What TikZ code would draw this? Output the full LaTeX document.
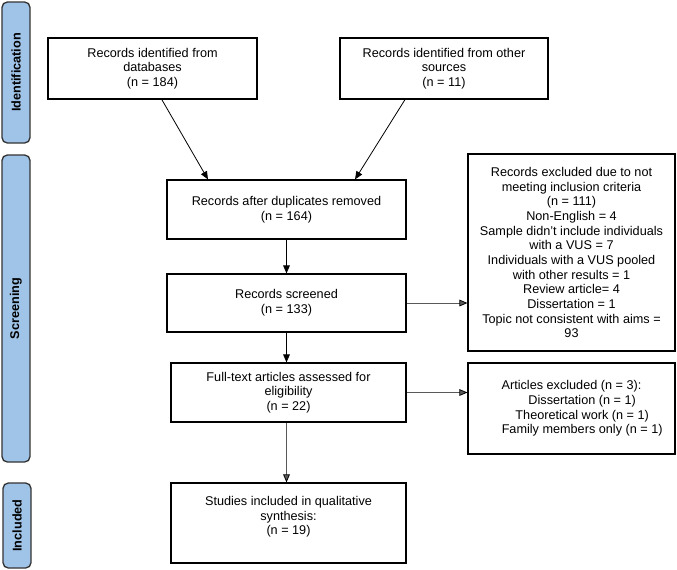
\documentclass[tikz,border=0pt]{standalone}
\usepackage{fontspec}
\setmainfont{Liberation Sans}
\usetikzlibrary{arrows.meta}
\definecolor{stageblue}{RGB}{160,196,232}

\begin{document}
\begin{tikzpicture}[x=0.75pt,y=-0.75pt,
  box/.style={draw,line width=0.9pt,align=center,inner sep=2pt,font=\fontsize{9.5}{11}\selectfont},
  stage/.style={draw=black!80,fill=stageblue,rounded corners=4pt,line width=1pt,rotate=90,minimum height=21pt,font=\bfseries\fontsize{9.5}{11}\selectfont},
  >={Triangle[length=6pt,width=5pt,black]}]
\useasboundingbox (0,0) rectangle (677,569);
\node[stage,minimum width=105.75pt] (ident)  at (16,72.5)  {Identification};
\node[stage,minimum width=230.25pt] (screen) at (16,308.5) {Screening};
\node[stage,minimum width=63.75pt]  (incl)   at (17,525.5) {Included};

\node[box,minimum width=156.75pt,minimum height=45.75pt] (db)    at (152.5,68.5) {Records identified from\\databases\\(n = 184)};
\node[box,minimum width=156pt,minimum height=45.75pt]    (other) at (444,68.5)   {Records identified from other\\sources\\(n = 11)};
\node[box,minimum width=179.25pt,minimum height=44.25pt] (dup)   at (286.5,209.5) {Records after duplicates removed\\(n = 164)};
\node[box,minimum width=179.25pt,minimum height=43.5pt]  (scr)   at (286.5,303)   {Records screened\\(n = 133)};
\node[box,minimum width=176.25pt,minimum height=44.25pt] (full)  at (288.5,392.5) {Full-text articles assessed for\\eligibility\\(n = 22)};
\node[box,minimum width=176.25pt,minimum height=60pt]    (incstud) at (288.5,523) {Studies included in qualitative\\synthesis:\\(n = 19)\\\mbox{}};
\node[box,minimum width=155.25pt,minimum height=147.75pt] (recexc) at (571.5,252.5) {Records excluded due to not\\meeting inclusion criteria\\(n = 111)\\Non-English = 4\\Sample didn't include individuals\\with a VUS = 7\\Individuals with a VUS pooled\\with other results = 1\\Review article= 4\\Dissertation = 1\\Topic not consistent with aims =\\93};
\node[box,minimum width=155.25pt,minimum height=68.25pt] (artexc) at (571.5,408.5) {Articles excluded (n = 3):\\\hspace*{16pt}Dissertation (n = 1)\\\hspace*{16pt}Theoretical work (n = 1)\\\hspace*{16pt}Family members only (n = 1)};

\path[->,line width=0.6pt]
([xshift=7pt]db.south)         edge ([xshift=-58.9pt]dup.north)
([xshift=-29.25pt]other.south) edge ([xshift=51.4pt]dup.north)
(dup)                          edge (scr)
(scr.south)                    edge (scr.south |- full.north)
;
\path[->,line width=0.6pt,gray!70!black]
(scr.east)                     edge (scr.east -| recexc.west)
(full)                         edge (full -| artexc.west)
(full.south -| scr.south)      edge (scr.south |- incstud.north)
;
\end{tikzpicture}
\end{document}
